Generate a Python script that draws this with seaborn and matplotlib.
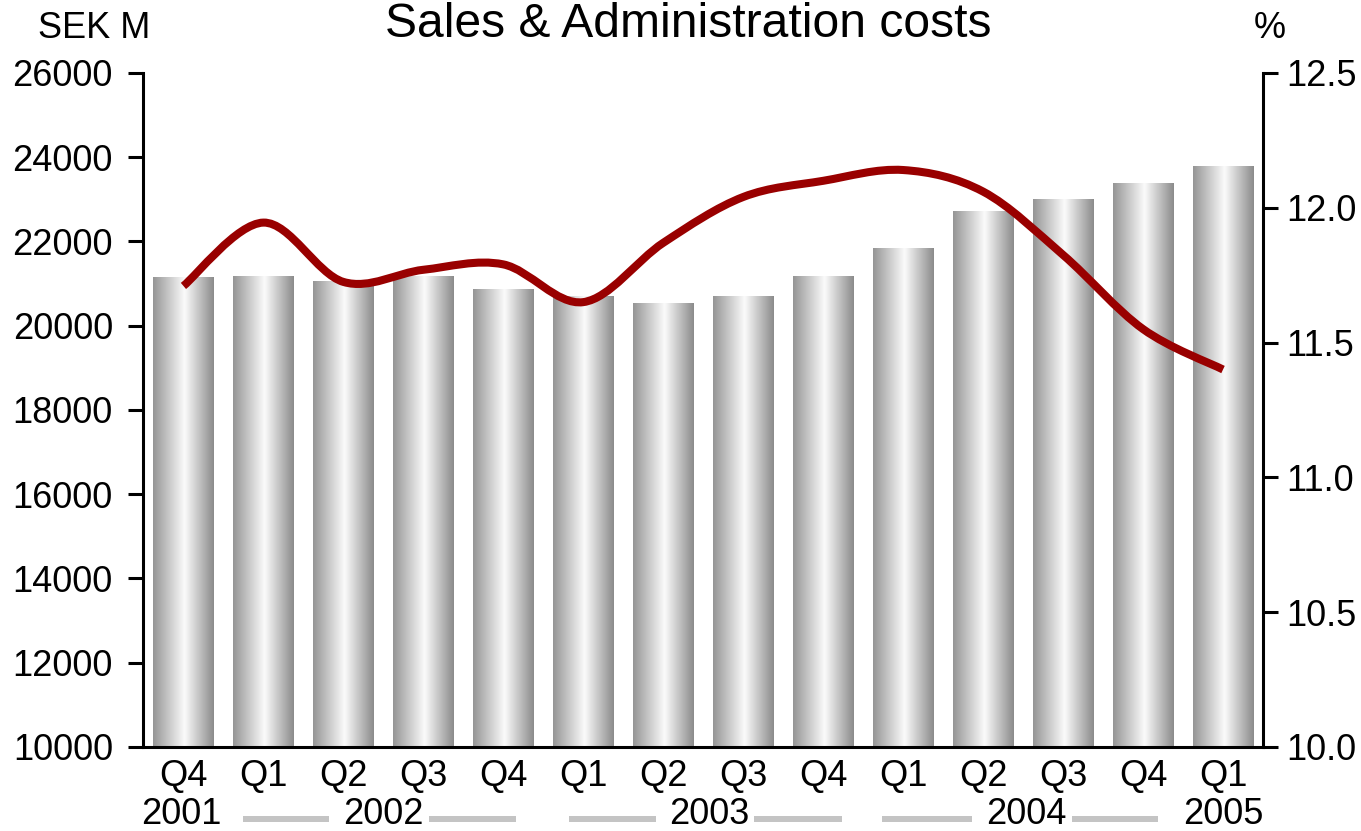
import numpy as np
import pandas as pd
import matplotlib
matplotlib.use("Agg")
import matplotlib.pyplot as plt
import seaborn as sns
from matplotlib.colors import LinearSegmentedColormap
from matplotlib.path import Path
from matplotlib.patches import PathPatch
from matplotlib.transforms import blended_transform_factory

# Quarterly data
periods = ["2001Q4", "2002Q1", "2002Q2", "2002Q3", "2002Q4", "2003Q1", "2003Q2",
           "2003Q3", "2003Q4", "2004Q1", "2004Q2", "2004Q3", "2004Q4", "2005Q1"]
quarters = ["Q4", "Q1", "Q2", "Q3", "Q4", "Q1", "Q2",
            "Q3", "Q4", "Q1", "Q2", "Q3", "Q4", "Q1"]
costs_sek_m = [21150, 21175, 21055, 21175, 20870, 20700, 20535,
               20700, 21175, 21840, 22715, 23000, 23380, 23785]
costs_pct = [11.71, 11.945, 11.725, 11.77, 11.79, 11.65, 11.87,
             12.04, 12.10, 12.14, 12.06, 11.825, 11.55, 11.40]
year_labels = ["2001", "2002", "2003", "2004", "2005"]
left_ticks = [10000, 12000, 14000, 16000, 18000, 20000, 22000, 24000, 26000]
right_ticks = [10.0, 10.5, 11.0, 11.5, 12.0, 12.5]

df = pd.DataFrame({"period": periods, "costs": costs_sek_m, "pct": costs_pct})

sns.set_style("white")
plt.rcParams["font.family"] = ["Liberation Sans", "DejaVu Sans"]

fig = plt.figure(figsize=(13.61, 8.31), dpi=100)
ax = fig.add_axes([0.1054, 0.1011, 0.8226, 0.8111])

sns.barplot(data=df, x="period", y="costs", ax=ax, width=0.76,
            color="#bbbbbb", edgecolor="none", saturation=1)

ymin, ymax = 10000, 26000
xmin, xmax = -0.5, len(periods) - 0.5

# Cylinder-style shading on each bar
shade = LinearSegmentedColormap.from_list(
    "cyl", [(0.0, "#959595"), (0.52, "#fbfbfb"), (1.0, "#8b8b8b")])
grad = np.linspace(0, 1, 256).reshape(1, -1)
for patch in ax.patches:
    x0 = patch.get_x()
    w = patch.get_width()
    h = patch.get_height()
    im = ax.imshow(grad, extent=[x0, x0 + w, ymin, h], aspect="auto",
                   cmap=shade, zorder=patch.get_zorder() + 0.1,
                   interpolation="bicubic")
    im.set_clip_path(patch)
    patch.set_facecolor("none")

ax.set_xlim(xmin, xmax)
ax.set_ylim(ymin, ymax)
ax.set_yticks(left_ticks)
ax.set_yticklabels([str(t) for t in left_ticks])
ax.set_xticks(range(len(periods)))
ax.set_xticklabels(quarters)
ax.set_xlabel("")
ax.set_ylabel("")
ax.tick_params(axis="y", which="both", direction="out", length=11, width=2.2,
               labelsize=26, pad=11, colors="black", left=True)
ax.tick_params(axis="x", length=0, labelsize=26, pad=9, colors="black")
for s in ["top", "right"]:
    ax.spines[s].set_visible(False)
for s in ["left", "bottom"]:
    ax.spines[s].set_linewidth(2.2)
    ax.spines[s].set_color("black")

# Percentage of sales on the right axis, drawn as a smoothed curve
ax2 = ax.twinx()
ax2.set_ylim(10.0, 12.5)
ax2.set_xlim(xmin, xmax)
xs = np.arange(len(costs_pct), dtype=float)
ys = np.array(costs_pct, dtype=float)
pts = np.column_stack([xs, ys])
ext = np.vstack([pts[0], pts, pts[-1]])
verts = [tuple(pts[0])]
codes = [Path.MOVETO]
for i in range(len(pts) - 1):
    p0, p1, p2, p3 = ext[i], ext[i + 1], ext[i + 2], ext[i + 3]
    c1 = p1 + (p2 - p0) / 6.0
    c2 = p2 - (p3 - p1) / 6.0
    verts += [tuple(c1), tuple(c2), tuple(p2)]
    codes += [Path.CURVE4, Path.CURVE4, Path.CURVE4]
ax2.add_patch(PathPatch(Path(verts, codes), facecolor="none", edgecolor="#990000",
                        linewidth=5.8, capstyle="butt", joinstyle="round", zorder=5))
ax2.set_yticks(right_ticks)
ax2.set_yticklabels([f"{t:.1f}" for t in right_ticks])
ax2.tick_params(axis="y", direction="out", length=11, width=2.2, labelsize=26,
                pad=6, colors="black", right=True)
for s in ["top", "left", "bottom"]:
    ax2.spines[s].set_visible(False)
ax2.spines["right"].set_linewidth(2.2)
ax2.spines["right"].set_color("black")
ax2.grid(False)
ax.grid(False)

# Year row beneath the quarter labels
yr = blended_transform_factory(ax.transData, fig.transFigure)
year_x = [-0.03, 2.5, 6.57, 10.54, 13.0]
for label, xv in zip(year_labels, year_x):
    ax.text(xv, 0.0195, label, transform=yr, ha="center", va="center",
            fontsize=26, color="black", clip_on=False)
dash_spans = [(0.74, 1.82), (3.07, 4.16), (4.82, 5.91),
              (7.14, 8.23), (8.74, 9.86), (11.11, 12.19)]
for a, b in dash_spans:
    ax.plot([a, b], [0.0145, 0.0145], transform=yr, color="#c4c4c4",
            linewidth=4.3, solid_capstyle="butt", clip_on=False)

fig.text(0.5055, 0.970, "Sales & Administration costs", ha="center", va="center",
         fontsize=34.6, color="black")
fig.text(0.069, 0.966, "SEK M", ha="center", va="center", fontsize=26, color="black")
fig.text(0.933, 0.966, "%", ha="center", va="center", fontsize=26, color="black")

fig.savefig("out.png", dpi=100, facecolor="white")
